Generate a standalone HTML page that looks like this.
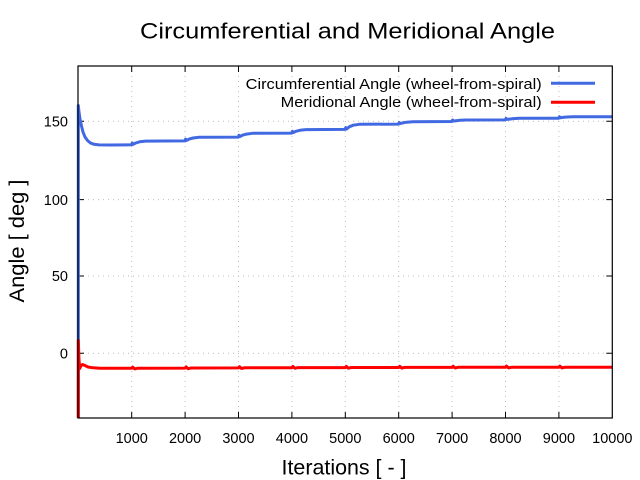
<!DOCTYPE html>
<html><head><meta charset="utf-8"><style>
html,body{margin:0;padding:0;background:#fff;}
svg{display:block;}
text{font-family:"Liberation Sans",sans-serif;fill:#000;}
</style></head><body>
<svg width="640" height="480" viewBox="0 0 640 480" xmlns="http://www.w3.org/2000/svg">
<rect width="640" height="480" fill="#fff"/>
<!-- grid -->
<g stroke="#bdbdbd" stroke-width="1" stroke-dasharray="1,4">
<line x1="131.7" y1="66" x2="131.7" y2="418"/>
<line x1="185.1" y1="66" x2="185.1" y2="418"/>
<line x1="238.5" y1="66" x2="238.5" y2="418"/>
<line x1="291.9" y1="66" x2="291.9" y2="418"/>
<line x1="345.3" y1="66" x2="345.3" y2="418"/>
<line x1="398.7" y1="66" x2="398.7" y2="418"/>
<line x1="452.1" y1="66" x2="452.1" y2="418"/>
<line x1="505.5" y1="66" x2="505.5" y2="418"/>
<line x1="558.9" y1="66" x2="558.9" y2="418"/>
<line x1="78" y1="353.3" x2="612.3" y2="353.3"/>
<line x1="78" y1="276" x2="612.3" y2="276"/>
<line x1="78" y1="199.6" x2="612.3" y2="199.6"/>
<line x1="78" y1="121.3" x2="612.3" y2="121.3"/>
</g>
<!-- ticks -->
<g stroke="#000" stroke-width="1">
<path d="M131.7,418v-6M185.1,418v-6M238.5,418v-6M291.9,418v-6M345.3,418v-6M398.7,418v-6M452.1,418v-6M505.5,418v-6M558.9,418v-6"/>
<path d="M131.7,66v6M185.1,66v6M238.5,66v6M291.9,66v6M345.3,66v6M398.7,66v6M452.1,66v6M505.5,66v6M558.9,66v6"/>
<path d="M78,353.3h6M78,276h6M78,199.6h6M78,121.3h6"/>
<path d="M612.3,353.3h-6M612.3,276h-6M612.3,199.6h-6M612.3,121.3h-6"/>
</g>
<!-- blue series -->
<path fill="none" stroke="#4169E1" stroke-width="3" stroke-linejoin="round" d="M78.3,418 L78.3,105.5 79,112 80,119 81.5,126 83,132 85,137 87.5,140.5 90.5,143 94,144.3 99,144.9 110,145 131.7,144.8
132.2,143 133.2,144.3 135.7,143 139.7,141.8 145.7,141.1 184.9,140.9
185.6,139.1 186.6,140.4 189.1,139.1 193.1,138 199.1,137.3 238.3,137.1
239,135.3 240,136.6 242.5,135.2 246.5,134.1 252.5,133.3 291.7,133.1
292.4,131.3 293.4,132.6 295.9,131.3 299.9,130.3 305.9,129.6 345.1,129.4
345.8,127.6 346.8,128.9 349.3,126.8 353.3,125.2 359.3,124.3 398.5,124.1
399.2,122.5 400.2,123.6 402.7,122.9 406.7,122.2 412.7,121.7 451.9,121.5
452.6,120 453.6,121 456.1,120.7 460.1,120.3 466.1,120 505.3,119.9
506,118.4 507,119.4 509.5,119.1 513.5,118.6 519.5,118.3 558.7,118.2
559.4,116.7 560.4,117.7 562.9,117.4 566.9,117 572.9,116.8 612.3,116.7"/>
<!-- red series -->
<path fill="none" stroke="#ff0000" stroke-width="3" stroke-linejoin="round" d="M78.3,418 L78.3,340.5 79,360 79.8,368.5 80.8,366 82.5,364.5 85,365.5 88,367 93,367.8 100,368.2 131.7,368.3
132.7,367.1 134.7,368.9 137.7,368.2 185.1,368.1
186.1,366.9 188.1,368.7 191.1,368 238.5,367.9
239.5,366.7 241.5,368.5 244.5,367.8 291.9,367.7
292.9,366.5 294.9,368.3 297.9,367.6 345.3,367.6
346.3,366.4 348.3,368.2 351.3,367.5 398.7,367.5
399.7,366.3 401.7,368.1 404.7,367.4 452.1,367.4
453.1,366.2 455.1,368 458.1,367.3 505.5,367.3
506.5,366.1 508.5,367.9 511.5,367.3 558.9,367.3
559.9,366.1 561.9,367.9 564.9,367.3 612.3,367.3"/>
<!-- frame -->
<rect x="78" y="66" width="534.3" height="352" fill="none" stroke="#000" stroke-width="1.2"/>
<!-- legend -->
<text x="541.7" y="88.8" font-size="15" text-anchor="end" textLength="296" lengthAdjust="spacingAndGlyphs">Circumferential Angle (wheel-from-spiral)</text>
<text x="541.7" y="107" font-size="15" text-anchor="end" textLength="261" lengthAdjust="spacingAndGlyphs">Meridional Angle (wheel-from-spiral)</text>
<line x1="551" y1="83.3" x2="595" y2="83.3" stroke="#4169E1" stroke-width="3"/>
<line x1="551" y1="102.3" x2="595" y2="102.3" stroke="#ff0000" stroke-width="3"/>
<!-- y tick labels -->
<g font-size="14.5" text-anchor="end">
<text x="68" y="358.5">0</text>
<text x="68" y="281.2">50</text>
<text x="68" y="204.8">100</text>
<text x="68" y="126.5">150</text>
</g>
<!-- x tick labels -->
<g font-size="14.5" text-anchor="middle">
<text x="131.7" y="443">1000</text>
<text x="185.1" y="443">2000</text>
<text x="238.5" y="443">3000</text>
<text x="291.9" y="443">4000</text>
<text x="345.3" y="443">5000</text>
<text x="398.7" y="443">6000</text>
<text x="452.1" y="443">7000</text>
<text x="505.5" y="443">8000</text>
<text x="558.9" y="443">9000</text>
<text x="612.3" y="443">10000</text>
</g>
<!-- title and axis labels -->
<text x="347.5" y="38.3" font-size="22" text-anchor="middle" textLength="415" lengthAdjust="spacingAndGlyphs">Circumferential and Meridional Angle</text>
<text x="344" y="474.3" font-size="21" text-anchor="middle" textLength="125" lengthAdjust="spacingAndGlyphs">Iterations [ - ]</text>
<text transform="translate(24,241) rotate(-90)" x="0" y="0" font-size="21" text-anchor="middle" textLength="123" lengthAdjust="spacingAndGlyphs">Angle [ deg ]</text>
</svg>
</body></html>
